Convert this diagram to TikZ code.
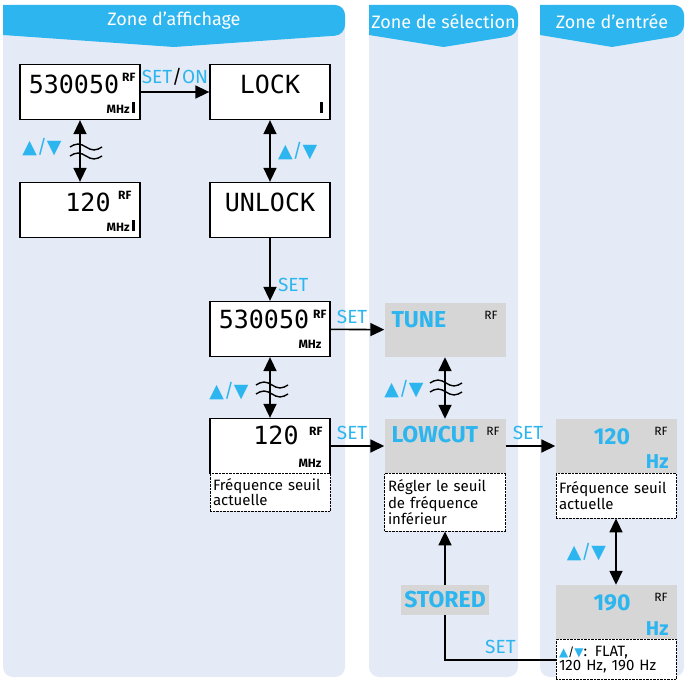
\documentclass[tikz,border=0pt]{standalone}
\usepackage{fontspec}
\setmainfont{Fira Sans}
\newfontfamily\dv{DejaVu Sans}
\newfontfamily\seg{DejaVu Sans Mono}
\usetikzlibrary{arrows.meta}
\definecolor{hdr}{HTML}{2CB5EE}
\definecolor{zone}{HTML}{E4EBF6}
\definecolor{lcd}{HTML}{D6D6D6}
\tikzset{
  disp/.style={draw,line width=1.3pt,fill=white,minimum width=120pt,minimum height=55pt,inner sep=0pt},
  grey/.style={fill=lcd,minimum width=121pt,minimum height=54pt,inner sep=0pt},
  note/.style={draw,densely dotted,fill=white,minimum width=120pt,inner sep=3pt,anchor=north,align=left,text width=114pt,font=\fontsize{15}{14}\selectfont},
  key/.style={text=hdr,font=\fontsize{19}{19}\selectfont},
  big/.style={text=hdr,font=\bfseries\fontsize{23}{23}\selectfont},
  seg/.style={font=\seg\fontsize{25}{25}\selectfont},
  small/.style={font=\bfseries\fontsize{12}{12}\selectfont},
  arr/.style={-{Triangle[length=14pt,width=13pt]},line width=1.6pt},
  darr/.style={{Triangle[length=14pt,width=13pt]}-{Triangle[length=14pt,width=13pt]},line width=1.6pt},
}
\newcommand{\updown}{{\dv\textcolor{hdr}{▲}}/{\dv\textcolor{hdr}{▼}}}
\newcommand{\brk}[2]{\draw[line width=1.4pt] (#1-16,#2-4) sin (#1-8,#2-7) cos (#1,#2-4) sin (#1+8,#2-1) cos (#1+16,#2-4);
  \draw[line width=1.4pt] (#1-16,#2+5) sin (#1-8,#2+2) cos (#1,#2+5) sin (#1+8,#2+8) cos (#1+16,#2+5);}
\begin{document}
\begin{tikzpicture}[x=1pt,y=-1pt]
\useasboundingbox (0,0) rectangle (689,687);
% zones
\foreach \xa/\xb/\t in {3/345/Zone d’affichage,369/518/Zone de sélection,540/684/Zone d’entrée}{
  \fill[zone,rounded corners=10pt] (\xa,5) rectangle (\xb,677);
  \fill[hdr,rounded corners=10pt] (\xa,5) -- (\xb,5) -- (\xb,35) [sharp corners]-- ({(\xa+\xb)/2},47) -- (\xa,35) -- cycle;
  \node[text=white,font=\fontsize{18}{18}\selectfont] at ({(\xa+\xb)/2},21) {\t};
}
% displays
\node[disp] (freq) at (80,92) {};
\node[seg] at (74,84) {530050};
\node[small,anchor=north east] at (139,70) {RF};
\node[small,anchor=south east] at (139,117) {MHz \rule{3pt}{11pt}};
\node[disp] (low) at (80,210) {};
\node[seg] at (88,202) {120};
\node[small,anchor=north east] at (135,188) {RF};
\node[small,anchor=south east] at (139,235) {MHz \rule{3pt}{11pt}};
\node[disp] (lock) at (270,92) {};
\node[seg] at (270,84) {LOCK};
\node[small,anchor=south east] at (327,117) {\rule{3pt}{11pt}};
\node[disp] (unlock) at (270,210) {};
\node[seg] at (270,202) {UNLOCK};
\node[disp] (freqb) at (270,329) {};
\node[seg] at (264,319) {530050};
\node[small,anchor=north east] at (330,307) {RF};
\node[small,anchor=south east] at (325,352) {MHz};
\node[disp] (lowb) at (270,446) {};
\node[seg] at (276,435) {120};
\node[small,anchor=north east] at (326,424) {RF};
\node[small,anchor=south east] at (325,471) {MHz};
\node[note,minimum height=38pt] (lownote) at (270,473) {Fréquence seuil\\actuelle};
% selection
\node[grey] (tune) at (445,330) {};
\node[big,anchor=west] at (388,320) {TUNE};
\node[small,font=\fontsize{12}{12}\selectfont,anchor=north east] at (501,308) {RF};
\node[grey] (lowcut) at (445,446) {};
\node[big,anchor=west] at (388,435) {LOWCUT};
\node[small,font=\fontsize{12}{12}\selectfont,anchor=north east] at (503,424) {RF};
\node[note,minimum height=58pt,minimum width=121pt] (cutnote) at (445,473) {Régler le seuil\\de fréquence\\inférieur};
\node[fill=lcd,minimum width=87pt,minimum height=30pt,big] (stored) at (445,600) {STORED};
% input
\node[grey] (hza) at (616,446) {};
\node[big] at (612,437) {120};
\node[big,font=\bfseries\fontsize{20}{20}\selectfont,anchor=south east] at (672,472) {Hz};
\node[small,font=\fontsize{12}{12}\selectfont,anchor=north east] at (671,424) {RF};
\node[note,minimum height=45pt] (hznote) at (616,473) {Fréquence seuil\\actuelle};
\node[grey] (hzb) at (616,612) {};
\node[big] at (612,603) {190};
\node[big,font=\bfseries\fontsize{20}{20}\selectfont,anchor=south east] at (672,639) {Hz};
\node[small,font=\fontsize{12}{12}\selectfont,anchor=north east] at (671,590) {RF};
\node[note,minimum height=40pt] (hzbnote) at (616,639) {{\fontsize{12}{12}\selectfont\updown}: FLAT,\\120 Hz, 190 Hz};
% connectors
\draw[arr] (freq) -- node[key,above=2pt,pos=0.5] {SET{\color{black}/}ON} (lock);
\draw[darr] (freq) -- (low);
\brk{86}{151}
\node[key] at (42,147) {\updown};
\draw[darr] (lock) -- node[key,right=4pt] {\updown} (unlock);
\draw[arr] (unlock) -- node[key,right=4pt,pos=0.75] {SET} (freqb);
\draw[arr] (freqb) -- node[key,above=2pt,pos=0.4] {SET} (tune);
\draw[darr] (freqb) -- (lowb);
\brk{272}{389}
\node[key] at (229,391) {\updown};
\draw[arr] (lowb) -- node[key,above=2pt,pos=0.4] {SET} (lowcut);
\draw[darr] (tune) -- (lowcut);
\brk{446}{387}
\node[key] at (404,389) {\updown};
\draw[arr] (lowcut) -- node[key,above=2pt,pos=0.45] {SET} (hza);
\draw[darr] (hznote) -- node[key,left=6pt] {\updown} (hzb);
\coordinate (turn) at (445,660);
\draw[line width=1.6pt] (hzbnote.west |- turn) -- node[key,above=2pt,pos=0.5] {SET} (turn) -- (stored);
\draw[arr] (stored) -- (cutnote);
\end{tikzpicture}
\end{document}
